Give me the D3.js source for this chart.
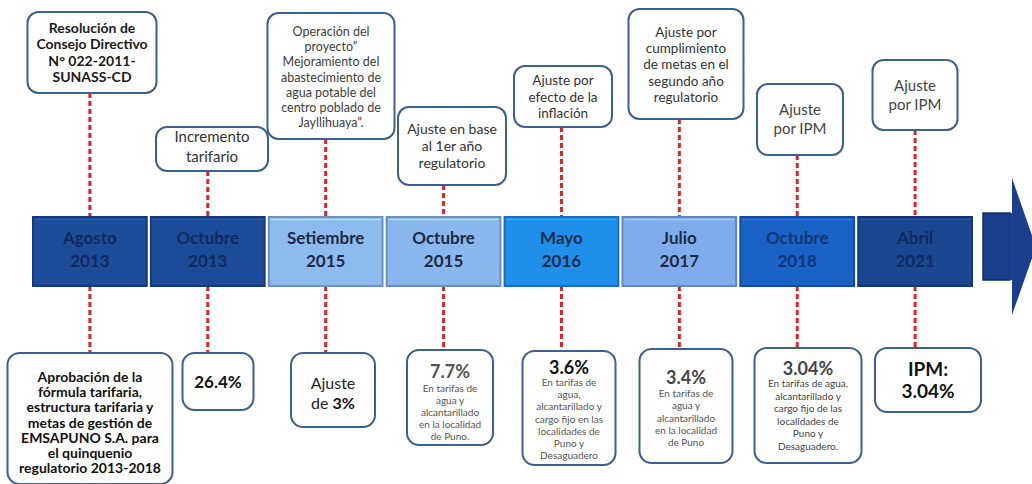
<!DOCTYPE html>
<html>
<head>
<meta charset="utf-8">
<script src="https://cdn.jsdelivr.net/npm/d3@7"></script>
<style>
  body { margin: 0; background: #fff; }
  svg { display: block; font-family: Lato, "Open Sans", sans-serif; }
</style>
</head>
<body>
<svg id="chart"></svg>
<script>
// timeline data
var months = ["Agosto", "Octubre", "Setiembre", "Octubre", "Mayo", "Julio", "Octubre", "Abril"];
var years = ["2013", "2013", "2015", "2015", "2016", "2017", "2018", "2021"];

var topNotes = [
  ["Resolución de", "Consejo Directivo", "N° 022-2011-", "SUNASS-CD"],
  ["Incremento", "tarifario"],
  ["Operación del", "proyecto”", "Mejoramiento del", "abastecimiento de", "agua potable del", "centro poblado de", "Jayllihuaya”."],
  ["Ajuste en base", "al 1er año", "regulatorio"],
  ["Ajuste  por", "efecto de la", "inflación"],
  ["Ajuste por", "cumplimiento", "de metas en el", "segundo año", "regulatorio"],
  ["Ajuste", "por IPM"],
  ["Ajuste", "por IPM"]
];

var bottomHeads = ["", "26.4%", "", "7.7%", "3.6%", "3.4%", "3.04%", "IPM:"];
var bottomNotes = [
  ["Aprobación de la", "fórmula tarifaria,", "estructura tarifaria y", "metas de gestión de", "EMSAPUNO S.A. para", "el quinquenio", "regulatorio 2013-2018"],
  [],
  ["Ajuste", "de |3%"],
  ["En tarifas de", "agua y", "alcantarillado", "en la localidad", "de Puno."],
  ["En tarifas de", "agua,", "alcantarillado y", "cargo fijo en las", "localidades de", "Puno y", "Desaguadero"],
  ["En tarifas de", "agua y", "alcantarillado", "en la localidad", "de Puno"],
  ["En tarifas de agua,", "alcantarillado y", "cargo fijo de las", "localidades de", "Puno y", "Desaguadero."],
  ["3.04%"]
];

// styles / layout
var blockColors = ["#1e4c99", "#1d4b97", "#8dbbf0", "#8ab8ee", "#1f8fea", "#80aced", "#1b62c6", "#1b4690"];
var blockText = ["#0f2a5e", "#0f2a5e", "#1c2a44", "#1c2a44", "#1b2d4a", "#1c2a44", "#0f3677", "#0f2a5e"];

var topBox = [
  {cx: 92, w: 129, y0: 12, y1: 93, size: 14, bold: true, off: 21, lh: 16.4, color: "#1a1a1a"},
  {cx: 212, w: 112, y0: 127, y1: 171, size: 15, bold: false, off: 15, lh: 19.5, color: "#333"},
  {cx: 331, w: 127, y0: 13, y1: 139, size: 12.5, bold: false, off: 23, lh: 15.2, color: "#3d3d3d"},
  {cx: 452, w: 108, y0: 107, y1: 185, size: 14, bold: false, off: 27, lh: 17, color: "#333"},
  {cx: 563, w: 98, y0: 66, y1: 127, size: 13.5, bold: false, off: 19, lh: 16.5, color: "#333"},
  {cx: 686, w: 115, y0: 9, y1: 119, size: 13.5, bold: false, off: 28, lh: 16.2, color: "#333"},
  {cx: 800, w: 86, y0: 84, y1: 155, size: 15, bold: false, off: 31, lh: 19, color: "#444"},
  {cx: 915, w: 85, y0: 60, y1: 130, size: 15, bold: false, off: 31, lh: 19, color: "#444"}
];

var bottomBox = [
  {cx: 90, w: 165, y0: 353, y1: 484, hOff: 0, hSize: 0, hColor: "#111", off: 29, lh: 15.2, size: 14, bold: true, color: "#111"},
  {cx: 218, w: 71, y0: 353, y1: 410, hOff: 35, hSize: 17, hColor: "#111", off: 0, lh: 0, size: 0, bold: false, color: "#111"},
  {cx: 333, w: 84, y0: 353, y1: 427, hOff: 0, hSize: 0, hColor: "#111", off: 36, lh: 20, size: 16, bold: false, color: "#222"},
  {cx: 450, w: 86, y0: 350, y1: 445, hOff: 28, hSize: 18, hColor: "#555", off: 42, lh: 12, size: 10, bold: false, color: "#555"},
  {cx: 569, w: 93, y0: 351, y1: 465, hOff: 23, hSize: 18, hColor: "#111", off: 35, lh: 12.2, size: 10, bold: false, color: "#555"},
  {cx: 686, w: 93, y0: 349, y1: 463, hOff: 35, hSize: 18, hColor: "#444", off: 48, lh: 12.3, size: 10, bold: false, color: "#555"},
  {cx: 808, w: 107, y0: 348, y1: 463, hOff: 27, hSize: 18, hColor: "#444", off: 39, lh: 12.6, size: 10, bold: false, color: "#444"},
  {cx: 928, w: 106, y0: 348, y1: 412, hOff: 28, hSize: 19, hColor: "#111", off: 50, lh: 21, size: 19, bold: true, color: "#111"}
];

var screen = {width: 1032, height: 484};
var band = {top: 217, bottom: 286};

var svg = d3.select("#chart")
  .attr("width", screen.width)
  .attr("height", screen.height);

var xScale = d3.scaleBand()
  .domain(d3.range(months.length))
  .range([33, 972])
  .paddingInner(0.035);

var boxStroke = "#3d5f92";

// dashed connectors
svg.selectAll(".conn-top")
  .data(topBox)
  .enter()
  .append("line")
  .attr("x1", function(d, i) { return xScale(i) + xScale.bandwidth() / 2; })
  .attr("x2", function(d, i) { return xScale(i) + xScale.bandwidth() / 2; })
  .attr("y1", function(d) { return d.y1; })
  .attr("y2", band.top)
  .attr("stroke", "#d8262b")
  .attr("stroke-width", 3)
  .attr("stroke-dasharray", "5,3");

svg.selectAll(".conn-bottom")
  .data(bottomBox)
  .enter()
  .append("line")
  .attr("x1", function(d, i) { return xScale(i) + xScale.bandwidth() / 2; })
  .attr("x2", function(d, i) { return xScale(i) + xScale.bandwidth() / 2; })
  .attr("y1", band.bottom)
  .attr("y2", function(d) { return d.y0; })
  .attr("stroke", "#d8262b")
  .attr("stroke-width", 3)
  .attr("stroke-dasharray", "5,3");

// arrow at the end
var xEnd = xScale.range()[1];
svg.append("rect")
  .attr("x", xEnd + 11)
  .attr("y", band.top - 4)
  .attr("width", 27)
  .attr("height", band.bottom - band.top - 2)
  .attr("fill", "#1b3f8c")
  .attr("stroke", "#132f6b")
  .attr("stroke-width", 1.5);
svg.append("path")
  .attr("d", "M" + (xEnd + 40) + "," + 178 + "L" + (xEnd + 64) + "," + 247 + "L" + (xEnd + 40) + "," + 315 + "Z")
  .attr("fill", "#1b3f8c");
svg.append("rect")
  .attr("x", xEnd + 38)
  .attr("y", band.top - 4)
  .attr("width", 4)
  .attr("height", band.bottom - band.top - 2)
  .attr("fill", "#1b3f8c");

// timeline blocks
var blocks = svg.selectAll(".block")
  .data(months)
  .enter()
  .append("g")
  .attr("transform", function(d, i) { return "translate(" + xScale(i) + "," + band.top + ")"; });

blocks.append("rect")
  .attr("width", xScale.bandwidth())
  .attr("height", band.bottom - band.top)
  .attr("fill", function(d, i) { return blockColors[i]; })
  .attr("stroke", function(d, i) { return d3.color(blockColors[i]).darker(0.7); })
  .attr("stroke-width", 2);

blocks.append("line")
  .attr("x1", 2).attr("x2", xScale.bandwidth() - 2)
  .attr("y1", 2.5).attr("y2", 2.5)
  .attr("stroke", function(d, i) { return d3.color(blockColors[i]).brighter(0.5); })
  .attr("stroke-width", 1.5);

blocks.append("text")
  .attr("x", xScale.bandwidth() / 2)
  .attr("y", 27)
  .attr("text-anchor", "middle")
  .attr("font-size", 17)
  .attr("font-weight", "bold")
  .attr("fill", function(d, i) { return blockText[i]; })
  .text(function(d) { return d; });

blocks.append("text")
  .attr("x", xScale.bandwidth() / 2)
  .attr("y", 50)
  .attr("text-anchor", "middle")
  .attr("font-size", 17)
  .attr("font-weight", "bold")
  .attr("fill", function(d, i) { return blockText[i]; })
  .text(function(d, i) { return years[i]; });

// top note boxes
var tops = svg.selectAll(".top-note")
  .data(topNotes)
  .enter()
  .append("g");

tops.append("rect")
  .attr("x", function(d, i) { return topBox[i].cx - topBox[i].w / 2; })
  .attr("y", function(d, i) { return topBox[i].y0; })
  .attr("width", function(d, i) { return topBox[i].w; })
  .attr("height", function(d, i) { return topBox[i].y1 - topBox[i].y0; })
  .attr("rx", 11)
  .attr("fill", "#fff")
  .attr("stroke", boxStroke)
  .attr("stroke-width", 2);

tops.each(function(lines, i) {
  var s = topBox[i];
  d3.select(this).selectAll("text")
    .data(lines)
    .enter()
    .append("text")
    .attr("x", s.cx)
    .attr("y", function(d, j) { return s.y0 + s.off + j * s.lh; })
    .attr("text-anchor", "middle")
    .attr("font-size", s.size)
    .attr("font-weight", s.bold ? "bold" : "normal")
    .attr("fill", s.color)
    .text(function(d) { return d; });
});

// bottom note boxes
var bottoms = svg.selectAll(".bottom-note")
  .data(bottomNotes)
  .enter()
  .append("g");

bottoms.append("rect")
  .attr("x", function(d, i) { return bottomBox[i].cx - bottomBox[i].w / 2; })
  .attr("y", function(d, i) { return bottomBox[i].y0; })
  .attr("width", function(d, i) { return bottomBox[i].w; })
  .attr("height", function(d, i) { return bottomBox[i].y1 - bottomBox[i].y0; })
  .attr("rx", 12)
  .attr("fill", "#fff")
  .attr("stroke", boxStroke)
  .attr("stroke-width", 2);

bottoms.append("text")
  .attr("x", function(d, i) { return bottomBox[i].cx; })
  .attr("y", function(d, i) { return bottomBox[i].y0 + bottomBox[i].hOff; })
  .attr("text-anchor", "middle")
  .attr("font-size", function(d, i) { return bottomBox[i].hSize; })
  .attr("font-weight", "bold")
  .attr("fill", function(d, i) { return bottomBox[i].hColor; })
  .text(function(d, i) { return bottomHeads[i]; });

bottoms.each(function(lines, i) {
  var s = bottomBox[i];
  var t = d3.select(this).selectAll(".body")
    .data(lines)
    .enter()
    .append("text")
    .attr("x", s.cx)
    .attr("y", function(d, j) { return s.y0 + s.off + j * s.lh; })
    .attr("text-anchor", "middle")
    .attr("font-size", s.size)
    .attr("font-weight", s.bold ? "bold" : "normal")
    .attr("fill", s.color);
  // "|" marks the start of a bold part
  t.each(function(d) {
    var parts = d.split("|");
    var el = d3.select(this);
    el.append("tspan").text(parts[0]);
    if (parts.length > 1) {
      el.append("tspan").attr("font-weight", "bold").attr("fill", "#111").text(parts[1]);
    }
  });
});
</script>
</body>
</html>
